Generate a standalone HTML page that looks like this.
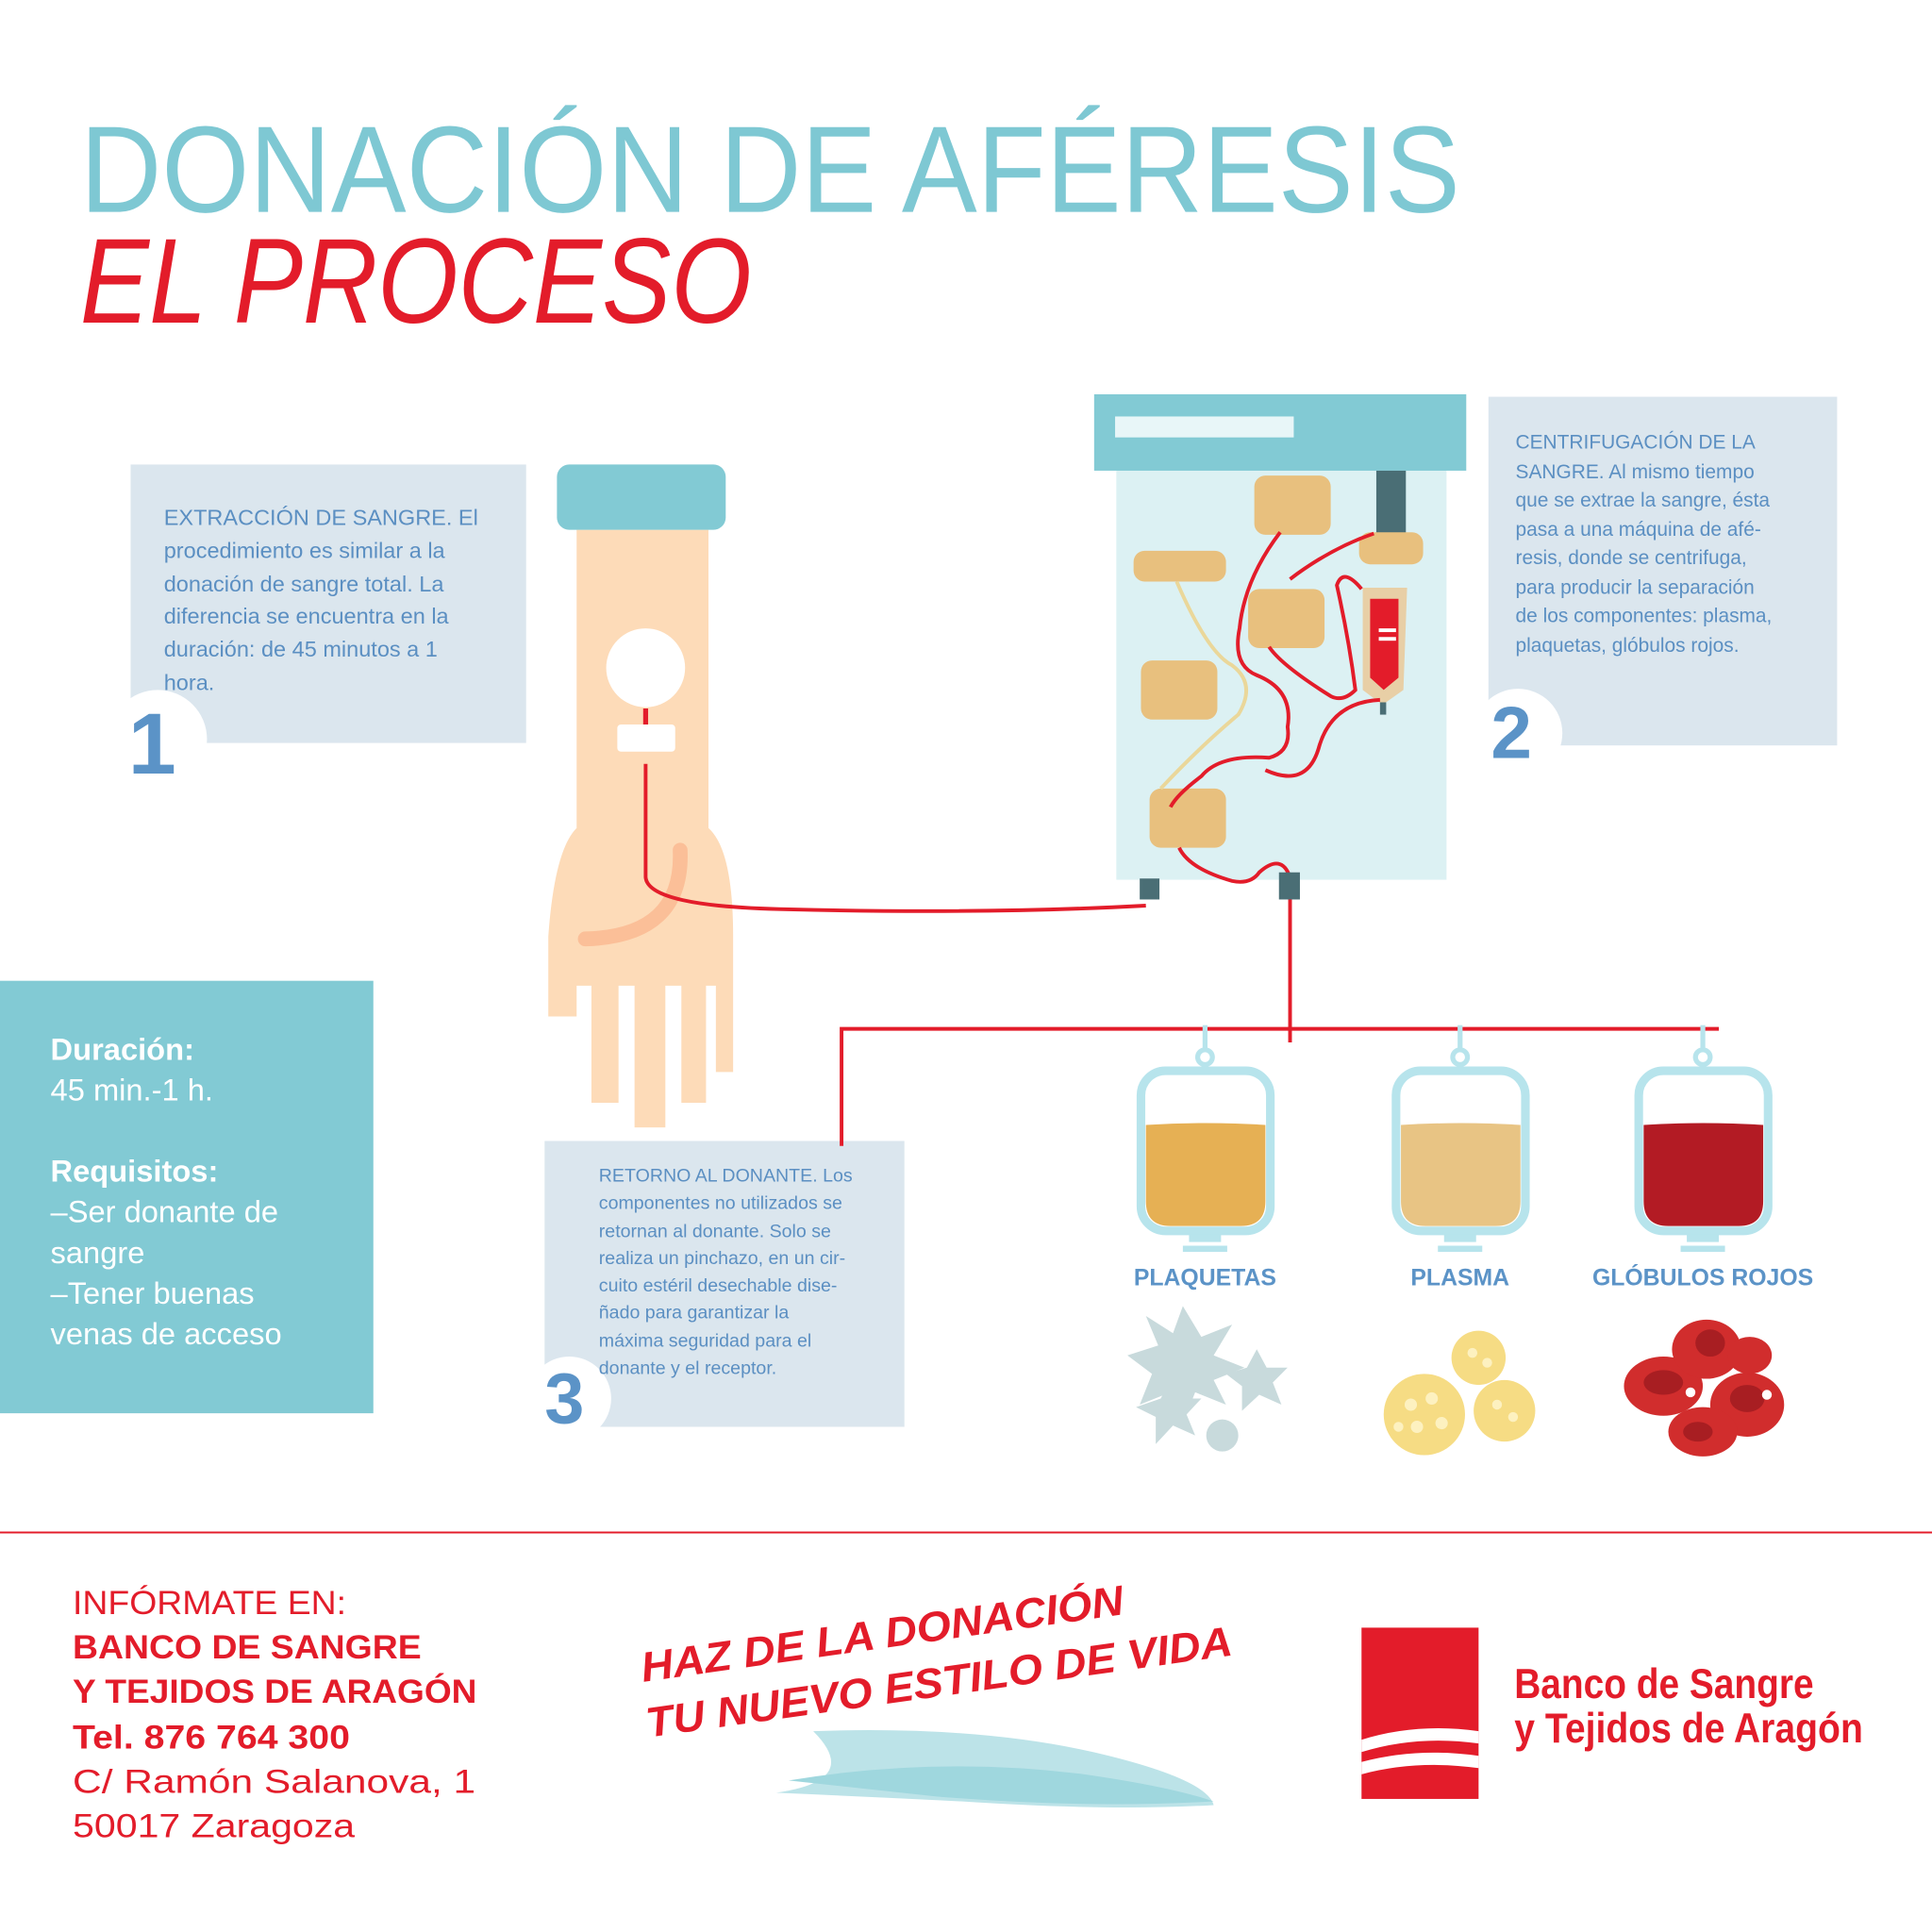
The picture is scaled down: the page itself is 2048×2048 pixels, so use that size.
<!DOCTYPE html>
<html><head><meta charset="utf-8"><style>
html,body{margin:0;padding:0;background:#fff;}
#w{width:1568px;height:1568px;transform:scale(1.306122);transform-origin:0 0;position:relative;overflow:hidden;font-family:"Liberation Sans",sans-serif;}
.box{position:absolute;background:#dbe6ee;}
.t{position:absolute;color:#5b8fc2;white-space:nowrap;}
</style></head><body><div id="w">
<svg width="1568" height="1568" style="position:absolute;left:0;top:0">
<text x="65" y="172" font-size="100" fill="#7ec8d3" textLength="1120" lengthAdjust="spacingAndGlyphs" font-family="Liberation Sans">DONACIÓN DE AFÉRESIS</text>
<text x="65" y="262" font-size="98" fill="#e31c2a" font-style="italic" textLength="545" lengthAdjust="spacingAndGlyphs" font-family="Liberation Sans">EL PROCESO</text>
</svg>

<div class="box" style="left:106px;top:377px;width:321px;height:226px"></div>
<div class="box" style="left:1208px;top:322px;width:283px;height:283px"></div>
<div class="box" style="left:442px;top:926px;width:292px;height:232px"></div>

<svg width="1568" height="1568" style="position:absolute;left:0;top:0">
<circle cx="128" cy="600" r="40" fill="#fff"/>
<circle cx="1232" cy="595" r="36" fill="#fff"/>
<circle cx="462" cy="1135" r="34" fill="#fff"/>
<text x="104" y="628" font-size="70" font-weight="bold" fill="#5b93c7">1</text>
<text x="1210" y="615" font-size="60" font-weight="bold" fill="#5b93c7">2</text>
<text x="442" y="1155" font-size="58" font-weight="bold" fill="#5b93c7">3</text>

<path d="M468 430 H575 V672 Q595 690 595 760 V870 H581 V800 H573 V895 H553 V800 H540 V915 H515 V800 H502 V895 H480 V800 H468 V825 H445 V760 Q450 690 468 672 Z" fill="#fddbb8"/>
<rect x="452" y="377" width="137" height="53" rx="10" fill="#82cad4"/>
<path d="M552 690 Q555 760 475 762" stroke="#fbbf98" stroke-width="12" fill="none" stroke-linecap="round"/>
<circle cx="524" cy="542" r="32" fill="#fff"/>
<rect x="501" y="588" width="47" height="22" rx="3" fill="#fff"/>
<path d="M524 575 V588" stroke="#e31c2a" stroke-width="4"/>
<path d="M524 620 V712 Q526 736 640 738 Q800 742 930 735" stroke="#e31c2a" stroke-width="3" fill="none"/>

<rect x="906" y="380" width="268" height="334" fill="#dcf1f3"/>
<rect x="888" y="320" width="302" height="62" fill="#82cad4"/>
<rect x="905" y="338" width="145" height="17" fill="#e8f6f8"/>
<rect x="1117" y="382" width="24" height="52" fill="#4a6e75"/>
<g fill="#e8c07e">
<rect x="1018" y="386" width="62" height="48" rx="9"/>
<rect x="920" y="447" width="75" height="25" rx="9"/>
<rect x="1103" y="432" width="52" height="26" rx="9"/>
<rect x="1013" y="478" width="62" height="48" rx="9"/>
<rect x="926" y="536" width="62" height="48" rx="9"/>
<rect x="933" y="640" width="62" height="48" rx="9"/>
</g>
<path d="M1106 477 H1142 L1139 560 L1122 572 L1106 560 Z" fill="#e8cfa6"/>
<path d="M1112 486 H1135 V550 L1123 560 L1112 550 Z" fill="#e31c2a"/>
<rect x="1119" y="510" width="14" height="3" fill="#fff"/><rect x="1119" y="517" width="14" height="3" fill="#fff"/>
<rect x="1120" y="570" width="5" height="10" fill="#4a6e75"/>
<g stroke="#e31c2a" stroke-width="3" fill="none">
<path d="M1039 432 Q1010 470 1006 510 Q1000 540 1020 548 Q1050 560 1045 590 Q1048 610 1030 615 Q990 612 975 630 Q955 645 950 655"/>
<path d="M1027 625 Q1060 640 1070 608 Q1080 570 1120 568"/>
<path d="M1115 433 Q1080 445 1047 470"/>
<path d="M1030 525 Q1040 540 1080 565 Q1090 570 1100 560 Q1095 520 1085 475 Q1090 460 1105 478"/>
<path d="M957 688 Q965 705 1000 715 Q1015 718 1022 708 Q1040 692 1047 712 V846"/>
</g>
<path d="M955 472 Q980 530 1000 540 Q1020 555 1005 580 Q975 605 942 640" stroke="#ead79a" stroke-width="3" fill="none"/>
<rect x="925" y="713" width="16" height="17" fill="#4a6e75"/>
<rect x="1038" y="708" width="17" height="22" fill="#4a6e75"/>

<path d="M683 930 V835 H1395" stroke="#e31c2a" stroke-width="3" fill="none"/>
<g stroke="#b7e4ec" stroke-width="4" fill="none">
<path d="M978 832 V852"/><circle cx="978" cy="858" r="6"/>
<path d="M1185 832 V852"/><circle cx="1185" cy="858" r="6"/>
<path d="M1382 832 V852"/><circle cx="1382" cy="858" r="6"/>
</g>
<g>
<rect x="926" y="869" width="105" height="130" rx="20" fill="#fff" stroke="#b7e4ec" stroke-width="7"/>
<path d="M930 913 Q978 910 1027 913 V975 Q1027 995 1007 995 H950 Q930 995 930 975Z" fill="#e6b054"/>
<rect x="1133" y="869" width="105" height="130" rx="20" fill="#fff" stroke="#b7e4ec" stroke-width="7"/>
<path d="M1137 913 Q1185 910 1234 913 V975 Q1234 995 1214 995 H1157 Q1137 995 1137 975Z" fill="#e8c484"/>
<rect x="1330" y="869" width="105" height="130" rx="20" fill="#fff" stroke="#b7e4ec" stroke-width="7"/>
<path d="M1334 913 Q1382 910 1431 913 V975 Q1431 995 1411 995 H1354 Q1334 995 1334 975Z" fill="#b31b24"/>
<g fill="#b7e4ec"><rect x="965" y="1002" width="26" height="6"/><rect x="960" y="1011" width="36" height="5"/>
<rect x="1172" y="1002" width="26" height="6"/><rect x="1167" y="1011" width="36" height="5"/>
<rect x="1369" y="1002" width="26" height="6"/><rect x="1364" y="1011" width="36" height="5"/></g>
</g>
<g font-size="19" font-weight="bold" fill="#5b93c7" text-anchor="middle">
<text x="978" y="1043">PLAQUETAS</text><text x="1185" y="1043">PLASMA</text><text x="1382" y="1043">GLÓBULOS ROJOS</text></g>
<g fill="#c8dadc">
<polygon points="960,1060 975,1085 1000,1075 985,1100 1010,1110 985,1120 995,1140 970,1130 960,1155 950,1130 925,1140 935,1115 915,1100 940,1092 930,1068 952,1082"/>
<polygon points="1020,1095 1028,1110 1045,1110 1033,1122 1040,1140 1022,1132 1008,1145 1008,1125 995,1115 1012,1110"/>
<polygon points="950,1120 958,1135 975,1135 963,1148 970,1165 952,1157 938,1172 938,1150 922,1142 942,1135"/>
<circle cx="992" cy="1165" r="13"/>
</g>
<g fill="#f6dc84">
<circle cx="1156" cy="1148" r="33"/><circle cx="1200" cy="1102" r="22"/><circle cx="1221" cy="1145" r="25"/>
</g>
<g fill="#fff7d0" opacity="0.8">
<circle cx="1145" cy="1140" r="5"/><circle cx="1162" cy="1135" r="5"/><circle cx="1150" cy="1158" r="5"/><circle cx="1170" cy="1155" r="5"/><circle cx="1135" cy="1158" r="4"/>
<circle cx="1195" cy="1098" r="4"/><circle cx="1207" cy="1106" r="4"/><circle cx="1215" cy="1140" r="4"/><circle cx="1228" cy="1150" r="4"/>
</g>
<g fill="#d12d2d">
<ellipse cx="1350" cy="1125" rx="32" ry="24"/><ellipse cx="1385" cy="1095" rx="28" ry="24"/><ellipse cx="1418" cy="1140" rx="30" ry="26"/>
<ellipse cx="1382" cy="1162" rx="28" ry="20"/><ellipse cx="1420" cy="1100" rx="18" ry="15"/>
</g>
<g fill="#a81e22"><ellipse cx="1350" cy="1122" rx="16" ry="10"/><ellipse cx="1388" cy="1090" rx="12" ry="11"/><ellipse cx="1418" cy="1135" rx="14" ry="11"/><ellipse cx="1378" cy="1162" rx="12" ry="8"/></g>
<circle cx="1372" cy="1130" r="4" fill="#fff"/><circle cx="1434" cy="1132" r="4" fill="#fff"/>

<rect x="0" y="1243" width="1568" height="1.5" fill="#e31c2a"/>
<g font-family="Liberation Sans" fill="#e31c2a">
<text x="59" y="1310" font-size="27" textLength="222" lengthAdjust="spacingAndGlyphs">INFÓRMATE EN:</text>
<text x="59" y="1346" font-size="27" font-weight="bold" textLength="283" lengthAdjust="spacingAndGlyphs">BANCO DE SANGRE</text>
<text x="59" y="1382" font-size="27" font-weight="bold" textLength="328" lengthAdjust="spacingAndGlyphs">Y TEJIDOS DE ARAGÓN</text>
<text x="59" y="1419" font-size="27" font-weight="bold" textLength="225" lengthAdjust="spacingAndGlyphs">Tel. 876 764 300</text>
<text x="59" y="1455" font-size="27" textLength="327" lengthAdjust="spacingAndGlyphs">C/ Ramón Salanova, 1</text>
<text x="59" y="1491" font-size="27" textLength="229" lengthAdjust="spacingAndGlyphs">50017 Zaragoza</text>
</g>
<g fill="#8fd0d9" opacity="0.85">
<path d="M660 1405 Q800 1400 900 1425 Q980 1445 985 1465 Q900 1470 780 1462 Q700 1458 630 1455 Q700 1445 660 1405Z" opacity="0.7"/>
<path d="M640 1445 Q760 1425 880 1440 Q950 1450 985 1462 Q880 1468 760 1458 Z"/>
</g>
<g fill="#e31c2a" font-weight="bold" font-style="italic" font-family="Liberation Sans">
<text x="522" y="1365" font-size="34" transform="rotate(-8 522 1365)" textLength="395" lengthAdjust="spacingAndGlyphs">HAZ DE LA DONACIÓN</text>
<text x="526" y="1410" font-size="34" transform="rotate(-8 526 1410)" textLength="480" lengthAdjust="spacingAndGlyphs">TU NUEVO ESTILO DE VIDA</text>
</g>
<rect x="1105" y="1321" width="95" height="139" fill="#e31c2a"/>
<path d="M1105 1412 Q1150 1398 1200 1405 V1415 Q1150 1408 1105 1422Z M1105 1430 Q1150 1418 1200 1425 V1435 Q1150 1428 1105 1440Z" fill="#fff"/>
<g fill="#e31c2a" font-weight="bold" font-family="Liberation Sans">
<text x="1229" y="1378" font-size="34" textLength="243" lengthAdjust="spacingAndGlyphs">Banco de Sangre</text>
<text x="1229" y="1414" font-size="34" textLength="283" lengthAdjust="spacingAndGlyphs">y Tejidos de Aragón</text>
</g>
</svg>

<div class="t" style="left:133px;top:407px;font-size:18px;line-height:26.8px">EXTRACCIÓN DE SANGRE. El<br>procedimiento es similar a la<br>donación de sangre total. La<br>diferencia se encuentra en la<br>duración: de 45 minutos a 1<br>hora.</div>
<div class="t" style="left:1230px;top:348px;font-size:16px;line-height:23.5px">CENTRIFUGACIÓN DE LA<br>SANGRE. Al mismo tiempo<br>que se extrae la sangre, ésta<br>pasa a una máquina de afé-<br>resis, donde se centrifuga,<br>para producir la separación<br>de los componentes: plasma,<br>plaquetas, glóbulos rojos.</div>
<div class="t" style="left:486px;top:944px;font-size:15px;line-height:22.3px">RETORNO AL DONANTE. Los<br>componentes no utilizados se<br>retornan al donante. Solo se<br>realiza un pinchazo, en un cir-<br>cuito estéril desechable dise-<br>ñado para garantizar la<br>máxima seguridad para el<br>donante y el receptor.</div>

<div style="position:absolute;left:0;top:796px;width:303px;height:351px;background:#82cad4"></div>
<div style="position:absolute;left:41px;top:836px;width:260px;color:#fff;font-size:25px;line-height:33px;white-space:nowrap">
<b>Duración:</b><br>45 min.-1 h.<br><div style="height:33px"></div><b>Requisitos:</b><br>–Ser donante de<br>sangre<br>–Tener buenas<br>venas de acceso</div>
</div></body></html>
